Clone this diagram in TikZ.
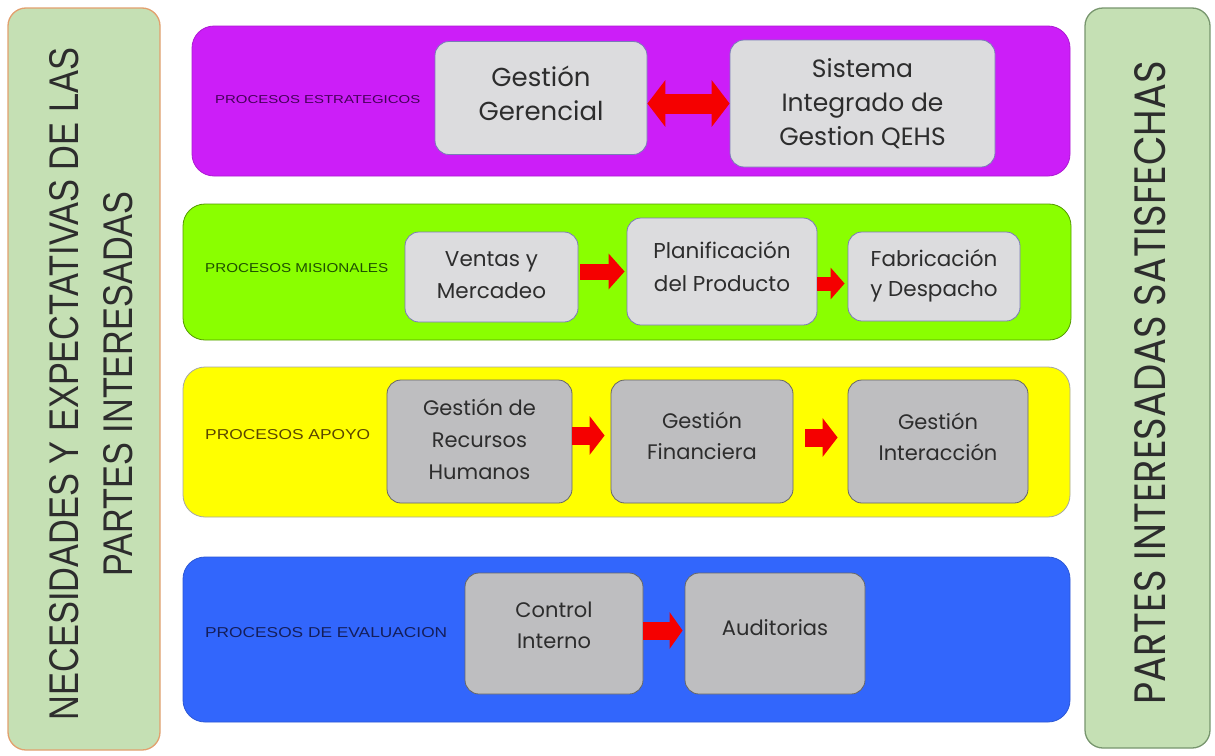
\documentclass[tikz,border=0pt]{standalone}
\usepackage{fontspec}
\setmainfont{Poppins}
\newfontfamily\narrowfont{Liberation Sans}
\usetikzlibrary{arrows.meta,calc}

\definecolor{panelfill}{RGB}{197,224,180}
\definecolor{leftedge}{RGB}{226,160,110}
\definecolor{rightedge}{RGB}{120,150,110}
\definecolor{strategic}{RGB}{204,30,248}
\definecolor{mission}{RGB}{138,255,0}
\definecolor{support}{RGB}{255,255,0}
\definecolor{evaluation}{RGB}{50,102,252}
\definecolor{boxlight}{RGB}{220,220,222}
\definecolor{boxdark}{RGB}{190,190,192}
\definecolor{textgray}{RGB}{45,45,45}
\definecolor{arrowred}{RGB}{245,0,0}

% centred block of lines, ink raised by #1 while the box keeps its size
\newcommand{\liftlines}[2]{\raisebox{#1}[\height][\depth]{\begin{tabular}{@{}c@{}}#2\end{tabular}}}

\begin{document}
\begin{tikzpicture}[x=1pt,y=-1pt,
  panel/.style={draw, line width=1.3pt, fill=panelfill, rounded corners=18pt,
    inner sep=0pt, minimum width=#1},
  band/.style={rounded corners=22pt, inner sep=0pt, line width=0.8pt},
  proc/.style={rounded corners=14pt, inner sep=0pt, align=center,
    text=textgray, line width=0.8pt},
  lightproc/.style={proc, fill=boxlight, draw=gray!70!blue!80},
  darkproc/.style={proc, fill=boxdark, draw=gray!80!black},
  tag/.style={anchor=west, inner sep=0pt, font=\narrowfont},
  flow/.style n args={3}{draw=arrowred, line width=#1,
    -{Triangle[length=#3, width=#2]}},
  biflow/.style n args={3}{draw=arrowred, line width=#1,
    {Triangle[length=#3, width=#2]}-{Triangle[length=#3, width=#2]}},
]
\useasboundingbox[fill=white] (0,0) rectangle (1215,755);

% side panels
\node[panel=152pt, draw=leftedge, minimum height=742pt] (needs) at (84,379) {};
\node[panel=125pt, draw=rightedge, minimum height=740pt] (satisfied) at (1147.5,378) {};

\node[rotate=90, inner sep=0pt, align=center, text=textgray, font=\narrowfont]
  (needstext) at (91,384)
  {\resizebox{672pt}{29pt}{NECESIDADES Y EXPECTATIVAS DE LAS}\\[24pt]
   \resizebox{385pt}{29pt}{PARTES INTERESADAS}};
\node[rotate=90, inner sep=0pt, text=textgray] (satisfiedtext) at (1150,383)
  {\resizebox{643pt}{31pt}{PARTES INTERESADAS SATISFECHAS}};

% process bands
\node[band, fill=strategic, draw=strategic!85!black, minimum width=878pt, minimum height=150pt] (b1) at (631,101) {};
\node[band, fill=mission, draw=mission!60!black, minimum width=888pt, minimum height=136pt] (b2) at (627,272) {};
\node[band, fill=support, draw=gray!70, minimum width=887pt, minimum height=150pt] (b3) at (626.5,442) {};
\node[band, fill=evaluation, draw=evaluation!85!black, minimum width=887pt, minimum height=165pt] (b4) at (626.5,639.5) {};

% band titles
\node[tag, text={rgb,255:red,70;green,0;blue,90}] (t1) at (215,100)
  {\resizebox{205pt}{8pt}{PROCESOS ESTRATEGICOS}};
\node[tag, text={rgb,255:red,30;green,80;blue,0}] (t2) at (205,268)
  {\resizebox{183pt}{9pt}{PROCESOS MISIONALES}};
\node[tag, text={rgb,255:red,90;green,70;blue,0}] (t3) at (205,435)
  {\resizebox{165pt}{10pt}{PROCESOS APOYO}};
\node[tag, text={rgb,255:red,20;green,30;blue,90}] (t4) at (205,633)
  {\resizebox{242pt}{10pt}{PROCESOS DE EVALUACION}};

% strategic processes
\node[lightproc, minimum width=212pt, minimum height=113pt,
  font=\fontsize{26}{34}\selectfont] (g1) at (541,98)
  {\liftlines{1pt}{Gestión\\Gerencial}};
\node[lightproc, minimum width=265pt, minimum height=127pt,
  font=\fontsize{25}{34}\selectfont] (g2) at (862.5,103.5)
  {\liftlines{-1pt}{Sistema\\Integrado de\\Gestion QEHS}};

% mission processes
\node[lightproc, minimum width=173pt, minimum height=90pt,
  font=\fontsize{21.5}{32}\selectfont] (m1) at (491.5,277)
  {\liftlines{1pt}{Ventas y\\Mercadeo}};
\node[lightproc, minimum width=190pt, minimum height=107pt,
  font=\fontsize{21.5}{33}\selectfont] (m2) at (722,271.5)
  {\liftlines{3pt}{Planificación\\del Producto}};
\node[lightproc, minimum width=172pt, minimum height=89pt,
  font=\fontsize{21.5}{30}\selectfont] (m3) at (934,276.5)
  {\liftlines{1pt}{Fabricación\\y Despacho}};

% support processes
\node[darkproc, minimum width=185pt, minimum height=123pt,
  font=\fontsize{21}{32}\selectfont] (s1) at (479.5,441.5)
  {\liftlines{0pt}{Gestión de\\Recursos\\Humanos}};
\node[darkproc, minimum width=182pt, minimum height=123pt,
  font=\fontsize{21}{31}\selectfont] (s2) at (702,441.5)
  {\liftlines{4pt}{Gestión\\Financiera}};
\node[darkproc, minimum width=180pt, minimum height=123pt,
  font=\fontsize{21}{31}\selectfont] (s3) at (938,441.5)
  {\liftlines{3pt}{Gestión\\Interacción}};

% evaluation processes
\node[darkproc, minimum width=178pt, minimum height=121pt,
  font=\fontsize{21}{31}\selectfont] (e1) at (554,633.5)
  {\liftlines{7pt}{Control\\Interno}};
\node[darkproc, minimum width=180pt, minimum height=121pt,
  font=\fontsize{21}{31}\selectfont] (e2) at (775,633.5)
  {\liftlines{4pt}{Auditorias}};

% connectors
\draw[biflow={20pt}{46pt}{18pt}] (g1.east |- g2.west) -- (g2.west);
\draw[flow={16pt}{35pt}{16pt}, shorten <=2pt, shorten >=2pt] (m1.east |- m2.west) -- (m2.west);
\draw[flow={14pt}{31pt}{14pt}, shorten >=3pt] ($(m2.east)+(0,12)$) -- ($(m3.west)+(0,7)$);
\draw[flow={18pt}{38pt}{15pt}, shorten >=6pt] ($(s1.east)+(0,-6)$) -- ($(s2.west)+(0,-6)$);
\draw[flow={18pt}{38pt}{15pt}, shorten <=12pt, shorten >=10pt] ($(s2.east)+(0,-4)$) -- ($(s3.west)+(0,-4)$);
\draw[flow={18pt}{36pt}{13pt}, shorten >=2pt] ($(e1.east)+(0,-3)$) -- ($(e2.west)+(0,-3)$);
\end{tikzpicture}
\end{document}
